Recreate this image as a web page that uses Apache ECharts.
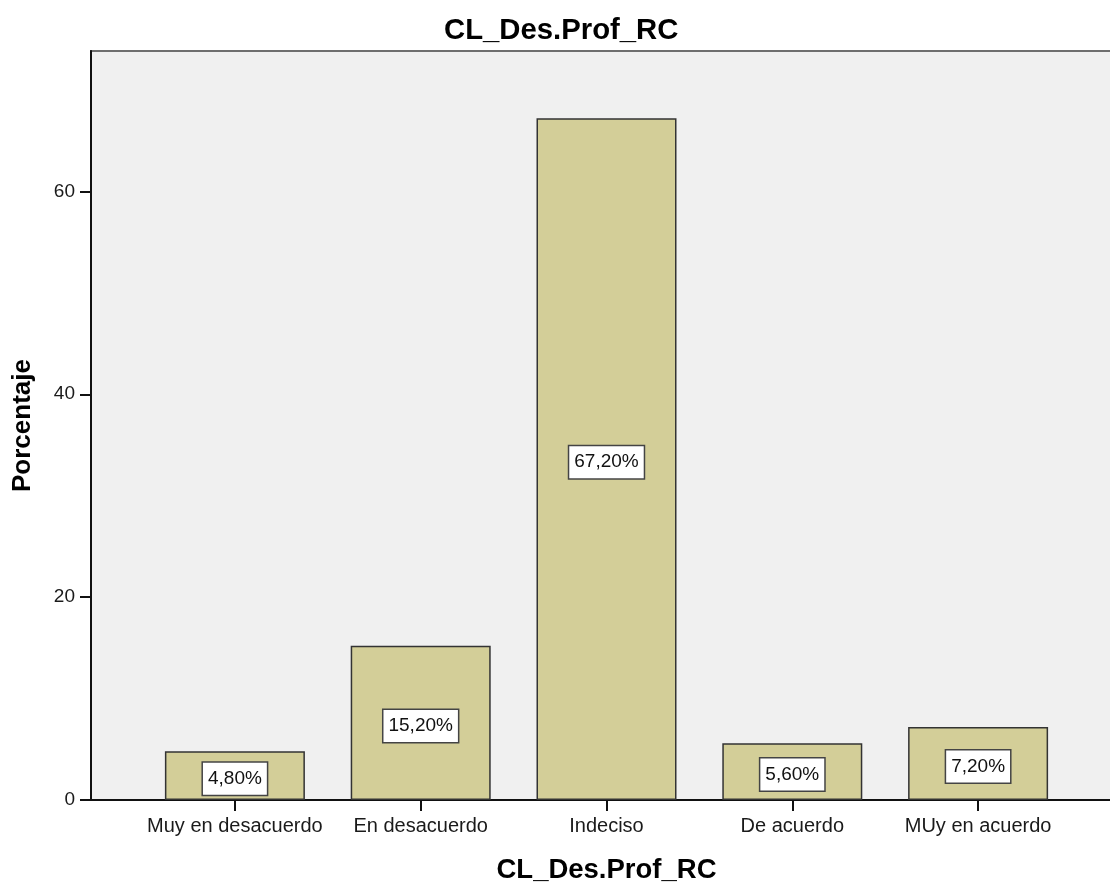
<!DOCTYPE html>
<html>
<head>
<meta charset="utf-8">
<script src="https://cdn.jsdelivr.net/npm/echarts@6/dist/echarts.min.js"></script>
<style>
  html, body { margin: 0; padding: 0; background: #ffffff; }
  #chart { width: 1110px; height: 883px; }
</style>
</head>
<body>
<div id="chart"></div>
<script>
// Response categories and their share of answers (%)
const categories = ['Muy en desacuerdo', 'En desacuerdo', 'Indeciso', 'De acuerdo', 'MUy en acuerdo'];
const percentages = [4.8, 15.2, 67.2, 5.6, 7.2];
const chartTitle = 'CL_Des.Prof_RC';
const yAxisTitle = 'Porcentaje';

const FONT = '"Liberation Sans", Arial, sans-serif';
const Y_MAX = 73.84;

const chart = echarts.init(document.getElementById('chart'), null, { renderer: 'canvas' });

chart.setOption({
  animation: false,
  backgroundColor: '#ffffff',
  title: {
    text: chartTitle,
    left: 439,
    top: 11,
    textStyle: { fontFamily: FONT, fontSize: 29.3, fontWeight: 'bold', color: '#000' }
  },
  grid: [
    // full plot frame with grey panel
    { left: 91, right: -3, top: 51, bottom: 83, show: true, backgroundColor: '#f0f0f0',
      borderColor: '#6e6e6e', borderWidth: 2, outerBoundsMode: 'none', containLabel: false },
    // inner band holding the bars
    { left: 142, right: 39, top: 51, bottom: 83, outerBoundsMode: 'none', containLabel: false }
  ],
  xAxis: [
    { gridIndex: 0, type: 'value', min: 0, max: 1,
      axisLine: { show: true, lineStyle: { color: '#111', width: 2 } },
      axisTick: { show: false }, axisLabel: { show: false }, splitLine: { show: false } },
    { gridIndex: 1, type: 'category', data: categories,
      axisLine: { show: false },
      axisTick: { show: true, alignWithLabel: true, length: 11, lineStyle: { color: '#111', width: 2 } },
      axisLabel: { interval: 0, fontFamily: FONT, fontSize: 20, color: '#1a1a1a', margin: 16 },
      name: chartTitle, nameLocation: 'middle', nameGap: 56,
      nameTextStyle: { fontFamily: FONT, fontSize: 27.5, fontWeight: 'bold', color: '#000' } }
  ],
  yAxis: [
    { gridIndex: 0, type: 'value', min: 0, max: Y_MAX, interval: 20,
      axisLine: { show: true, lineStyle: { color: '#111', width: 2 } },
      axisTick: { show: true, length: 11, lineStyle: { color: '#111', width: 2 } },
      axisLabel: { fontFamily: FONT, fontSize: 19, color: '#1a1a1a', margin: 16,
        showMaxLabel: false },
      splitLine: { show: false },
      name: yAxisTitle, nameLocation: 'middle', nameGap: 55,
      nameTextStyle: { fontFamily: FONT, fontSize: 26, fontWeight: 'bold', color: '#000' } },
    { gridIndex: 1, type: 'value', min: 0, max: Y_MAX, show: false }
  ],
  series: [{
    type: 'bar',
    xAxisIndex: 1,
    yAxisIndex: 1,
    data: percentages,
    barWidth: 140,
    itemStyle: { color: '#d3ce98', borderColor: '#333', borderWidth: 1.5 },
    label: {
      show: true,
      position: 'inside',
      offset: [0, 3],
      formatter: p => p.value.toFixed(2).replace('.', ',') + '%',
      fontFamily: FONT,
      fontSize: 19,
      color: '#111',
      lineHeight: 21,
      backgroundColor: '#ffffff',
      borderColor: '#444',
      borderWidth: 1.5,
      padding: [6, 5, 5, 5]
    }
  }]
});
</script>
</body>
</html>
